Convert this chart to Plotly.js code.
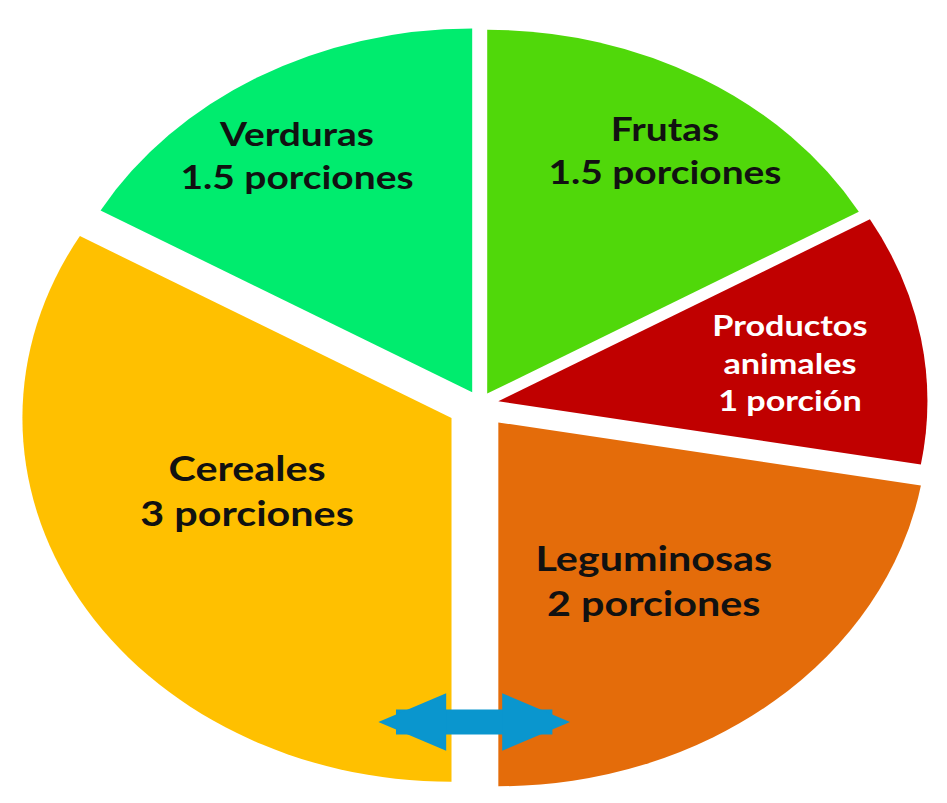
<!DOCTYPE html>
<html>
<head>
<meta charset="utf-8">
<script src="https://cdn.plot.ly/plotly-3.0.1.min.js"></script>
<style>
  html, body { margin: 0; padding: 0; background: #ffffff; overflow: hidden; }
  #chart { width: 803px; height: 803px; transform: scaleX(1.17933); transform-origin: 0 0; }
</style>
</head>
<body>
<div id="chart"></div>
<script>
// ---- data ----
const categories = ['Frutas', 'Productos animales', 'Leguminosas', 'Cereales', 'Verduras'];
const portions = [1.5, 1, 2, 3, 1.5];
const labelLines = [
  ['Frutas', '1.5 porciones'],
  ['Productos', 'animales', '1 porción'],
  ['Leguminosas', '2 porciones'],
  ['Cereales', '3 porciones'],
  ['Verduras', '1.5 porciones']
];

// ---- styles ----
const colors = ['#50D80A', '#C00000', '#E46C0A', '#FFC000', '#00EC6E'];
const pulls = [0.033, 0.043, 0.066, 0.077, 0.037];
const labelPos = [
  {x: 0.702, y: 0.814, size: 33, color: '#111111'},
  {x: 0.834, y: 0.549, size: 29, color: '#ffffff'},
  {x: 0.690, y: 0.278, size: 35, color: '#111111'},
  {x: 0.261, y: 0.390, size: 35, color: '#111111'},
  {x: 0.314, y: 0.808, size: 33, color: '#111111'}
];

const trace = {
  type: 'pie',
  labels: categories,
  values: portions,
  sort: false,
  direction: 'clockwise',
  rotation: 0,
  pull: pulls,
  marker: {colors: colors, line: {width: 0}},
  textinfo: 'none',
  hoverinfo: 'label+value',
  showlegend: false,
  domain: {x: [0.019, 0.995], y: [0.0087, 0.9851]}
};

const annotations = labelLines.map((lines, i) => ({
  xref: 'paper', yref: 'paper',
  x: labelPos[i].x, y: labelPos[i].y,
  xanchor: 'center', yanchor: 'middle',
  text: lines.join('<br>'),
  showarrow: false,
  font: {family: 'Lato, Carlito, sans-serif', size: labelPos[i].size, color: labelPos[i].color, weight: 'bold'}
}));

// double-headed blue arrow
annotations.push({
  xref: 'paper', yref: 'paper',
  x: 0.6019, y: 0.1009,
  ax: -164, ay: 0,
  text: '',
  showarrow: true,
  arrowside: 'end+start',
  arrowhead: 2, startarrowhead: 2,
  arrowsize: 0.46, startarrowsize: 0.46,
  arrowwidth: 25,
  arrowcolor: '#0A96CE',
  standoff: 0, startstandoff: 0
});

const layout = {
  width: 803, height: 803,
  margin: {l: 0, r: 0, t: 0, b: 0},
  paper_bgcolor: '#ffffff',
  plot_bgcolor: '#ffffff',
  showlegend: false,
  annotations: annotations
};

Plotly.newPlot('chart', [trace], layout, {displayModeBar: false, staticPlot: true});
</script>
</body>
</html>
